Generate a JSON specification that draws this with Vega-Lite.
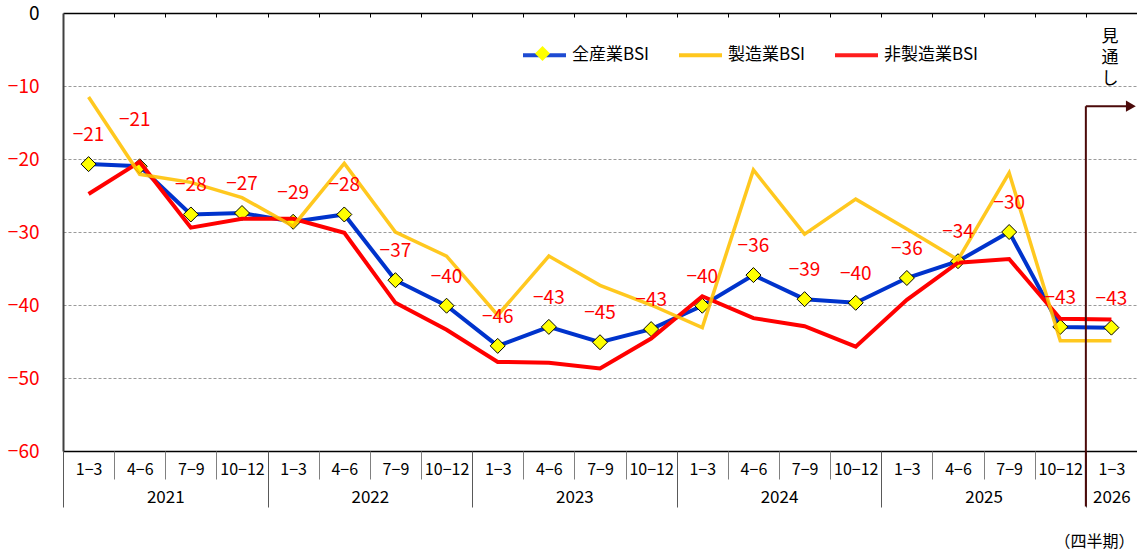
{
  "$schema": "https://vega.github.io/schema/vega-lite/v6.json",
  "width": 1074,
  "height": 438,
  "autosize": {"type": "none"},
  "padding": {"left": 63, "top": 13, "right": 0, "bottom": 103},
  "background": "white",
  "config": {"view": {"stroke": null}, "font": "Noto Sans CJK JP"},
  "data": {
    "values": [
      {"q": 1, "all": -20.7, "mfg": -11.5, "non": -24.8},
      {"q": 2, "all": -21.0, "mfg": -22.1, "non": -20.4},
      {"q": 3, "all": -27.6, "mfg": -23.2, "non": -29.4},
      {"q": 4, "all": -27.4, "mfg": -25.3, "non": -28.2},
      {"q": 5, "all": -28.6, "mfg": -29.2, "non": -28.2},
      {"q": 6, "all": -27.6, "mfg": -20.6, "non": -30.1},
      {"q": 7, "all": -36.6, "mfg": -30.0, "non": -39.7},
      {"q": 8, "all": -40.1, "mfg": -33.3, "non": -43.4},
      {"q": 9, "all": -45.6, "mfg": -41.4, "non": -47.8},
      {"q": 10, "all": -43.0, "mfg": -33.3, "non": -47.9},
      {"q": 11, "all": -45.1, "mfg": -37.3, "non": -48.7},
      {"q": 12, "all": -43.3, "mfg": -40.0, "non": -44.6},
      {"q": 13, "all": -40.1, "mfg": -43.1, "non": -38.8},
      {"q": 14, "all": -35.9, "mfg": -21.5, "non": -41.8},
      {"q": 15, "all": -39.2, "mfg": -30.3, "non": -42.9},
      {"q": 16, "all": -39.7, "mfg": -25.5, "non": -45.7},
      {"q": 17, "all": -36.3, "mfg": -29.6, "non": -39.3},
      {"q": 18, "all": -34.0, "mfg": -33.8, "non": -34.2},
      {"q": 19, "all": -30.0, "mfg": -21.9, "non": -33.7},
      {"q": 20, "all": -43.0, "mfg": -44.9, "non": -41.9},
      {"q": 21, "all": -43.1, "mfg": -44.9, "non": -42.0}
    ]
  },
  "resolve": {"axis": {"x": "independent", "y": "independent"}},
  "layer": [
    {
      "mark": {"type": "line", "strokeWidth": 4},
      "encoding": {
        "x": {
          "field": "q", "type": "quantitative",
          "scale": {"domain": [0.5, 21.5], "nice": false, "zero": false},
          "axis": {
            "orient": "bottom", "title": null, "grid": false,
            "values": [1,2,3,4,5,6,7,8,9,10,11,12,13,14,15,16,17,18,19,20,21],
            "labelExpr": "['1−3','4−6','7−9','10−12'][(datum.value - 1) % 4]",
            "ticks": false, "tickSize": 0,
            "domain": true, "domainColor": "black", "domainWidth": 1.5,
            "labelPadding": 18, "labelBaseline": "middle",
            "labelFontSize": 16, "labelFont": "Liberation Sans Narrow, Noto Sans CJK JP",
            "labelColor": "black", "labelFlush": false, "labelOverlap": false
          }
        },
        "y": {
          "field": "all", "type": "quantitative",
          "scale": {"domain": [-60, 0], "nice": false, "zero": false},
          "axis": {
            "title": null,
            "values": [-60, -50, -40, -30, -20, -10, 0],
            "format": "d",
            "ticks": false,
            "labelPadding": 24,
            "labelFontSize": 19,
            "labelFont": "Liberation Sans Narrow, Noto Sans CJK JP",
            "labelColor": {"condition": {"test": "datum.value === 0", "value": "black"}, "value": "#FF0000"},
            "labelFlush": false,
            "domainColor": "#404040", "domainWidth": 2,
            "grid": true, "gridDash": [3, 2], "gridWidth": 1,
            "gridColor": {"condition": {"test": "datum.value === 0 || datum.value === -60", "value": "transparent"}, "value": "#9a9a9a"}
          }
        },
        "color": {
          "datum": "全産業BSI",
          "scale": {"domain": ["全産業BSI", "製造業BSI", "非製造業BSI"], "range": ["#0033CC", "#FFC000", "#FF0000"]},
          "legend": {
            "orient": "none", "legendX": 458, "legendY": 18.5,
            "direction": "horizontal", "title": null,
            "symbolType": "stroke", "symbolSize": 1849, "symbolStrokeWidth": 4,
            "labelFontSize": 17, "labelFont": "Noto Sans CJK JP", "labelColor": "black",
            "columnPadding": 21, "labelOffset": 4, "padding": 0
          }
        }
      }
    },
    {
      "mark": {"type": "point", "shape": "diamond", "filled": true, "fill": "#FFFF00", "stroke": "black", "strokeWidth": 1, "size": 225, "opacity": 1},
      "encoding": {
        "x": {
          "field": "q", "type": "quantitative",
          "scale": {"domain": [0.5, 21.5], "nice": false, "zero": false},
          "axis": {
            "orient": "bottom", "title": "（四半期）",
            "titleX": 1031, "titleY": 90, "titleAnchor": null, "titleAlign": "center", "titleBaseline": "middle",
            "titleFontSize": 16, "titleFontWeight": "normal", "titleFont": "Noto Sans CJK JP", "titleColor": "black",
            "grid": false,
            "values": [2.5, 6.5, 10.5, 14.5, 18.5, 21],
            "labelExpr": "datum.value < 21 ? toString(2021 + floor((datum.value - 0.5) / 4)) : '2026'",
            "ticks": false, "tickSize": 0, "domain": false,
            "labelPadding": 46, "labelBaseline": "middle",
            "labelFontSize": 17, "labelFont": "Liberation Sans Narrow, Noto Sans CJK JP",
            "labelColor": "black", "labelFlush": false, "labelOverlap": false
          }
        },
        "y": {"field": "all", "type": "quantitative", "axis": null},
        "shape": {
          "datum": "全産業BSI",
          "scale": {"range": ["diamond"]},
          "legend": {
            "orient": "none", "legendX": 471.5, "legendY": 32.5, "title": null,
            "symbolSize": 225, "symbolFillColor": "#FFFF00", "symbolStrokeColor": "black",
            "symbolStrokeWidth": 1, "labelExpr": "''", "padding": 0
          }
        }
      }
    },
    {
      "mark": {"type": "line", "strokeWidth": 4},
      "encoding": {
        "x": {
          "field": "q", "type": "quantitative",
          "scale": {"domain": [0.5, 21.5], "nice": false, "zero": false},
          "axis": {
            "orient": "bottom", "title": null, "grid": false,
            "values": [1.5,2.5,3.5,5.5,6.5,7.5,9.5,10.5,11.5,13.5,14.5,15.5,17.5,18.5,19.5],
            "labels": false, "ticks": true, "tickSize": 28, "tickColor": "#808080", "tickWidth": 1,
            "domain": false
          }
        },
        "y": {"field": "non", "type": "quantitative", "axis": null},
        "color": {"datum": "非製造業BSI"}
      }
    },
    {
      "mark": {"type": "line", "strokeWidth": 3.5, "opacity": 0.88},
      "encoding": {
        "x": {
          "field": "q", "type": "quantitative",
          "scale": {"domain": [0.5, 21.5], "nice": false, "zero": false},
          "axis": {
            "orient": "bottom", "title": null, "grid": false,
            "values": [0.5, 4.5, 8.5, 12.5, 16.5, 20.5],
            "labels": false, "ticks": true, "tickSize": 56, "tickColor": "#595959", "tickWidth": 1,
            "domain": false
          }
        },
        "y": {"field": "mfg", "type": "quantitative", "axis": null},
        "color": {"datum": "製造業BSI"}
      }
    },
    {
      "transform": [{"filter": "datum.q !== 2"}],
      "mark": {"type": "text", "color": "#FF0000", "fontSize": 19, "font": "Liberation Sans Narrow, Noto Sans CJK JP", "baseline": "middle", "dy": -29},
      "encoding": {
        "x": {
          "field": "q", "type": "quantitative",
          "scale": {"domain": [0.5, 21.5], "nice": false, "zero": false},
          "axis": {
            "orient": "top", "title": null, "grid": false,
            "values": [1.5,2.5,3.5,4.5,5.5,6.5,7.5,8.5,9.5,10.5,11.5,12.5,13.5,14.5,15.5,16.5,17.5,18.5,19.5,20.5],
            "labels": false, "ticks": true, "tickSize": -4, "tickColor": "black", "tickWidth": 1,
            "domain": true, "domainColor": "black", "domainWidth": 1.5
          }
        },
        "y": {"field": "all", "type": "quantitative", "axis": null},
        "text": {"field": "all", "type": "quantitative", "format": ".0f"}
      }
    },
    {
      "transform": [{"filter": "datum.q === 2"}],
      "mark": {"type": "text", "color": "#FF0000", "fontSize": 19, "font": "Liberation Sans Narrow, Noto Sans CJK JP", "baseline": "middle", "dy": -46, "dx": -5},
      "encoding": {
        "x": {"field": "q", "type": "quantitative", "axis": null},
        "y": {"field": "all", "type": "quantitative", "axis": null},
        "text": {"field": "all", "type": "quantitative", "format": ".0f"}
      }
    },
    {
      "data": {"values": [{"note": "見通し"}]},
      "layer": [
        {
          "mark": {"type": "rule", "color": "#4B0A0A", "strokeWidth": 2},
          "encoding": {
            "x": {"datum": 20.5, "type": "quantitative", "axis": null},
            "y": {"datum": -12.76, "type": "quantitative", "axis": null},
            "y2": {"datum": -67.6}
          }
        },
        {
          "mark": {"type": "rule", "color": "#4B0A0A", "strokeWidth": 2},
          "encoding": {
            "x": {"datum": 20.5, "type": "quantitative", "axis": null},
            "x2": {"datum": 21.3},
            "y": {"datum": -12.76, "type": "quantitative", "axis": null}
          }
        },
        {
          "mark": {"type": "point", "shape": "triangle-right", "filled": true, "color": "#4B0A0A", "size": 130, "opacity": 1},
          "encoding": {
            "x": {"datum": 21.38, "type": "quantitative", "axis": null},
            "y": {"datum": -12.76, "type": "quantitative", "axis": null}
          }
        },
        {
          "mark": {"type": "text", "color": "black", "fontSize": 17, "font": "Noto Sans CJK JP", "baseline": "top", "lineHeight": 21},
          "encoding": {
            "x": {"datum": 20.97, "type": "quantitative", "axis": null},
            "y": {"datum": -2.2, "type": "quantitative", "axis": null},
            "text": {"value": ["見", "通", "し"]}
          }
        }
      ]
    }
  ]
}
